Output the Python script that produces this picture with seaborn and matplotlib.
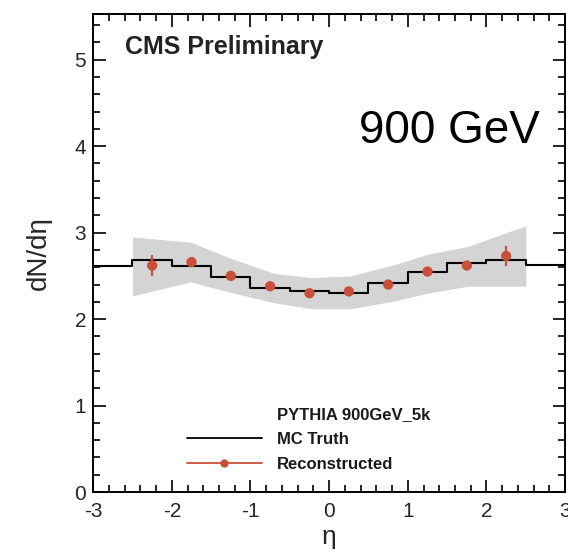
import numpy as np
import pandas as pd
import seaborn as sns
import matplotlib
matplotlib.use("Agg")
import matplotlib.pyplot as plt
from matplotlib.lines import Line2D
from matplotlib.ticker import MultipleLocator

# ---- data ----
truth_edges = [-3.0, -2.5, -2.0, -1.5, -1.0, -0.5, 0.0, 0.5, 1.0, 1.5, 2.0, 2.5, 3.0]
truth_vals = [2.61, 2.68, 2.61, 2.49, 2.365, 2.33, 2.30, 2.42, 2.54, 2.65, 2.68, 2.63]

reco_eta = [-2.25, -1.75, -1.25, -0.75, -0.25, 0.25, 0.75, 1.25, 1.75, 2.25]
reco_vals = [2.62, 2.66, 2.50, 2.38, 2.30, 2.32, 2.40, 2.55, 2.62, 2.73]
reco_err = [0.12, 0.03, 0.03, 0.03, 0.03, 0.03, 0.03, 0.03, 0.03, 0.12]

band_eta = [-2.5, -1.76, -1.3, -0.7, -0.23, 0.27, 0.83, 1.25, 1.76, 2.5]
band_up = [2.95, 2.89, 2.72, 2.53, 2.48, 2.50, 2.63, 2.75, 2.84, 3.08]
band_lo = [2.27, 2.43, 2.32, 2.19, 2.12, 2.12, 2.21, 2.30, 2.38, 2.38]

xticks = [-3, -2, -1, 0, 1, 2, 3]
yticks = [0, 1, 2, 3, 4, 5]

legend_title = 'PYTHIA 900GeV_5k'
legend_labels = ['MC Truth', 'Reconstructed']

sns.set_theme(style="ticks")
plt.rcParams['font.family'] = ['Liberation Sans', 'DejaVu Sans']

fig = plt.figure(figsize=(5.68, 5.56), dpi=100)
ax = fig.add_axes([0.164, 0.115, 0.831, 0.86])

red = '#c8503a'

ax.fill_between(band_eta, band_lo, band_up, color='#d4d4d4', lw=0, zorder=1)

truth_df = pd.DataFrame({'eta': truth_edges, 'val': truth_vals + [truth_vals[-1]]})
sns.lineplot(data=truth_df, x='eta', y='val', drawstyle='steps-post', color='black',
             lw=1.5, ax=ax, zorder=3)

reco_df = pd.DataFrame({'eta': reco_eta, 'val': reco_vals, 'err': reco_err})
ax.errorbar(reco_df['eta'], reco_df['val'], yerr=reco_df['err'], fmt='none',
            ecolor=red, elinewidth=1.6, zorder=4)
sns.scatterplot(data=reco_df, x='eta', y='val', color=red, s=55, edgecolor='none',
                ax=ax, zorder=5)

ax.set_xlim(-3, 3)
ax.set_ylim(0, 5.53)
ax.set_xticks(xticks)
ax.set_yticks(yticks)
ax.set_xticklabels([str(t) for t in xticks])
ax.set_yticklabels([str(t) for t in yticks])
ax.xaxis.set_minor_locator(MultipleLocator(0.2))
ax.yaxis.set_minor_locator(MultipleLocator(0.2))
ax.tick_params(which='both', direction='in', top=True, right=True, color='black', width=1.2)
ax.tick_params(which='major', length=9, labelsize=15)
ax.tick_params(axis='x', which='major', pad=7)
ax.tick_params(axis='y', which='major', pad=5)
ax.tick_params(which='minor', length=5)
for s in ax.spines.values():
    s.set_color('black')
    s.set_linewidth(1.4)

ax.set_xlabel('η', fontsize=19, labelpad=3)
ax.set_ylabel('dN/dη', fontsize=20, labelpad=16)

ax.text(0.067, 0.93, 'CMS Preliminary', transform=ax.transAxes, fontsize=18,
        fontweight='bold', color='#222222', va='center', ha='left')
ax.text(2.68, 4.04, '900 GeV', fontsize=33, ha='right', va='baseline', color='black')

handles = [Line2D([], [], color='none'),
           Line2D([], [], color='black', lw=1.3),
           Line2D([], [], color=red, lw=1.3, marker='o', markersize=5)]
leg = ax.legend(handles, [legend_title] + legend_labels,
                frameon=False, loc='lower left', bbox_to_anchor=(0.166, 0.01),
                handlelength=4.5, handletextpad=0.9, labelspacing=0.62,
                prop={'size': 12, 'weight': 'bold'})
for t in leg.get_texts():
    t.set_color('#1a1a1a')

fig.savefig('out.png', dpi=100, facecolor='white')
